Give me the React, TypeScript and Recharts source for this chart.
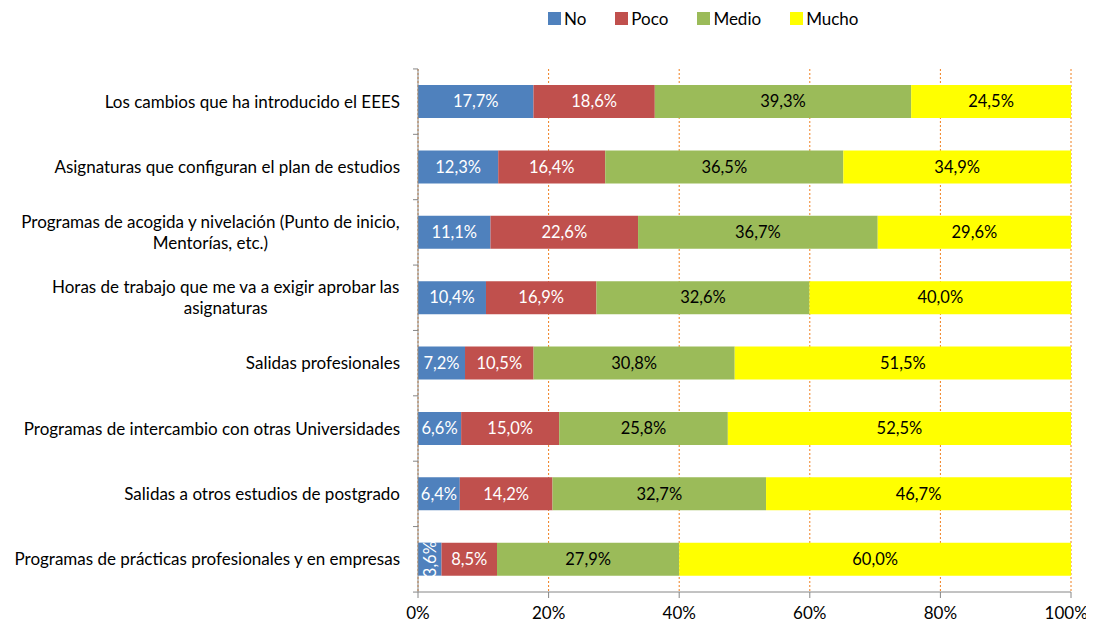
import React from 'react';
import {
  BarChart,
  Bar,
  XAxis,
  YAxis,
  CartesianGrid,
  Legend,
  LabelList,
} from 'recharts';

const categories = [
  'Los cambios que ha introducido el EEES',
  'Asignaturas que configuran el plan de estudios',
  'Programas de acogida y nivelación (Punto de inicio,\nMentorías, etc.)',
  'Horas de trabajo que me va a exigir aprobar las\nasignaturas',
  'Salidas profesionales',
  'Programas de intercambio con otras Universidades',
  'Salidas a otros estudios de postgrado',
  'Programas de prácticas profesionales y en empresas',
];

const noValues = [17.7, 12.3, 11.1, 10.4, 7.2, 6.6, 6.4, 3.6];
const pocoValues = [18.6, 16.4, 22.6, 16.9, 10.5, 15.0, 14.2, 8.5];
const medioValues = [39.3, 36.5, 36.7, 32.6, 30.8, 25.8, 32.7, 27.9];
const muchoValues = [24.5, 34.9, 29.6, 40.0, 51.5, 52.5, 46.7, 60.0];

const xTicks = [0, 0.2, 0.4, 0.6, 0.8, 1];

const FONT = 'Lato, "Open Sans", sans-serif';
const CAT_SIZE = 17;

const series = [
  { key: 'no', name: 'No', color: '#4F81BD', text: '#ffffff' },
  { key: 'poco', name: 'Poco', color: '#C0504D', text: '#ffffff' },
  { key: 'medio', name: 'Medio', color: '#9BBB59', text: '#000000' },
  { key: 'mucho', name: 'Mucho', color: '#FFFF00', text: '#000000' },
];

const data = categories.map((name, i) => ({
  name,
  no: noValues[i],
  poco: pocoValues[i],
  medio: medioValues[i],
  mucho: muchoValues[i],
}));

const fmt = (v: number) => v.toFixed(1).replace('.', ',') + '%';

let ctx: CanvasRenderingContext2D | null = null;
const measure = (s: string) => {
  if (!ctx) ctx = document.createElement('canvas').getContext('2d');
  if (!ctx) return s.length * CAT_SIZE * 0.45;
  ctx.font = `${CAT_SIZE}px Lato`;
  return ctx.measureText(s).width;
};

const CategoryTick = (props: any) => {
  const { x, y, payload, index } = props;
  const lines: string[] = String(payload.value).split('\n');
  const band = 65.5;
  const axisX = x + 18;
  const lineH = 21;
  const tickMarks = (
    <g stroke="#868686" strokeWidth={1}>
      <line x1={axisX - 5} x2={axisX} y1={y - band / 2} y2={y - band / 2} />
      {index === categories.length - 1 && (
        <line x1={axisX - 5} x2={axisX} y1={y + band / 2} y2={y + band / 2} />
      )}
    </g>
  );
  if (lines.length === 1) {
    return (
      <g>
        {tickMarks}
        <text x={x} y={y} dy="0.35em" textAnchor="end" fontSize={CAT_SIZE} fontFamily={FONT} fill="#000">
          {lines[0]}
        </text>
      </g>
    );
  }
  const blockW = Math.max(...lines.map(measure));
  const cx = x - blockW / 2;
  const startY = y - ((lines.length - 1) * lineH) / 2;
  return (
    <g>
      {tickMarks}
      <text textAnchor="middle" fontSize={CAT_SIZE} fontFamily={FONT} fill="#000">
        {lines.map((l, i) => (
          <tspan key={i} x={cx} y={startY + i * lineH} dy="0.35em">
            {l}
          </tspan>
        ))}
      </text>
    </g>
  );
};

const makeLabel = (textColor: string) => (props: any) => {
  const { x, y, width, height, value } = props;
  const cx = x + width / 2;
  const cy = y + height / 2;
  const rotated = width < 26;
  return (
    <text
      x={cx}
      y={cy}
      dy="0.35em"
      textAnchor="middle"
      fontSize={16.5}
      fontFamily={FONT}
      fill={textColor}
      transform={rotated ? `rotate(-90 ${cx} ${cy})` : undefined}
    >
      {fmt(value)}
    </text>
  );
};

const LegendContent = () => (
  <div style={{ display: 'flex', fontFamily: FONT, fontSize: 17, color: '#000' }}>
    {series.map((s) => (
      <div key={s.key} style={{ display: 'flex', alignItems: 'center', marginRight: 29 }}>
        <span style={{ width: 13, height: 13, background: s.color, display: 'inline-block', marginRight: 3 }} />
        <span>{s.name}</span>
      </div>
    ))}
  </div>
);

export default function App() {
  return (
    <div>
      <style>{'.recharts-surface{overflow:visible}'}</style>
      <BarChart
        width={1078}
        height={614}
        data={data}
        layout="vertical"
        stackOffset="expand"
        barSize={33}
        margin={{ top: 40, right: 15, bottom: 0, left: 0 }}
      >
        <CartesianGrid horizontal={false} stroke="#F07F1E" strokeDasharray="2 2" />
        <XAxis
          type="number"
          domain={[0, 1]}
          ticks={xTicks}
          tickFormatter={(v: number) => Math.round(v * 100) + '%'}
          stroke="#868686"
          tickSize={6}
          tickMargin={9}
          height={30}
          tick={{ fontSize: 17, fontFamily: FONT, fill: '#000' }}
        />
        <YAxis
          type="category"
          dataKey="name"
          width={410}
          stroke="#868686"
          tickLine={false}
          tickSize={0}
          tickMargin={18}
          interval={0}
          tick={<CategoryTick />}
        />
        <Legend
          verticalAlign="top"
          content={<LegendContent />}
          wrapperStyle={{ top: 0, left: 540, width: 400 }}
        />
        {series.map((s) => (
          <Bar key={s.key} dataKey={s.key} name={s.name} stackId="a" fill={s.color} isAnimationActive={false}>
            <LabelList dataKey={s.key} content={makeLabel(s.text)} />
          </Bar>
        ))}
      </BarChart>
    </div>
  );
}
